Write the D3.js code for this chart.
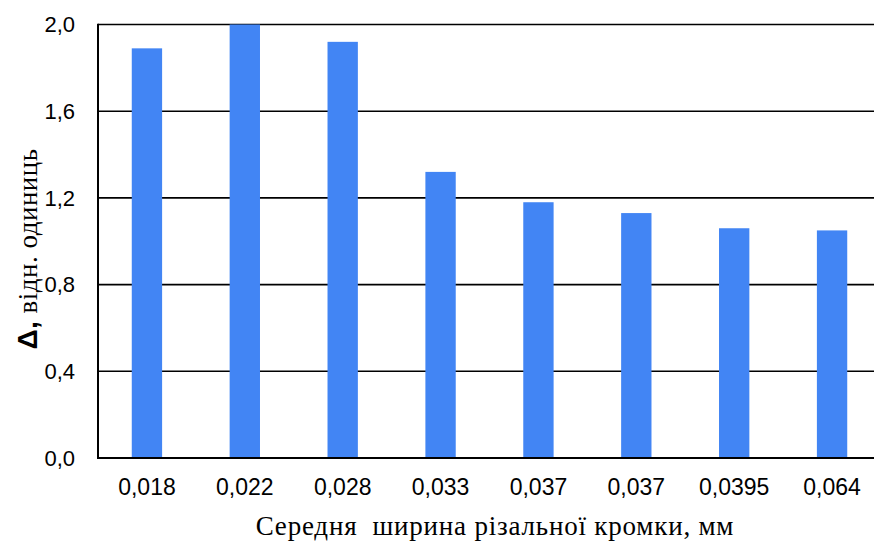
<!DOCTYPE html>
<html><head><meta charset="utf-8">
<script src="https://cdn.jsdelivr.net/npm/d3@7"></script>
<style>html,body{margin:0;padding:0;background:#fff;overflow:hidden}</style>
</head><body>
<svg id="c" width="874" height="541"></svg>
<script>
const categories = ["0,018","0,022","0,028","0,033","0,037","0,037 ","0,0395","0,064"];
const values = [1.89, 2.00, 1.92, 1.32, 1.18, 1.13, 1.06, 1.05];
const yTicks = [0, 0.4, 0.8, 1.2, 1.6, 2.0];
const xTitle = "Середня  ширина різальної кромки, мм";
const yTitleBold = "Δ,";
const yTitleRest = " відн. одиниць";

(function () {
const SANS = "'Liberation Sans', Arial, sans-serif";
const SERIF = "'Liberation Serif', 'Times New Roman', Times, serif";
const svg = d3.select("#c");
const pL = 98, pR = 881, pT = 24.5, pB = 458;
const x = d3.scaleBand().domain(d3.range(categories.length)).range([pL, pR]).paddingInner(0.69).paddingOuter(0.345);
const y = d3.scaleLinear().domain([0, 2]).range([pB, pT]);

svg.append("g").selectAll("line").data(yTicks.slice(1)).join("line")
  .attr("x1", pL).attr("x2", 874).attr("y1", d => y(d)).attr("y2", d => y(d))
  .attr("stroke", "#000").attr("stroke-width", 1.6);

svg.append("g").selectAll("rect").data(values).join("rect")
  .attr("x", (d, i) => x(i)).attr("width", x.bandwidth())
  .attr("y", d => y(d)).attr("height", d => y(0) - y(d))
  .attr("fill", "#4285f4");

svg.append("line").attr("x1", pL).attr("x2", pL).attr("y1", pT - 0.8).attr("y2", pB + 1)
  .attr("stroke", "#000").attr("stroke-width", 2);
svg.append("line").attr("x1", pL - 1).attr("x2", 874).attr("y1", pB).attr("y2", pB)
  .attr("stroke", "#000").attr("stroke-width", 2);

svg.append("g").selectAll("text").data(yTicks).join("text")
  .style("font-family", SANS)
  .attr("x", 75).attr("y", d => y(d)).attr("dy", "0.35em")
  .attr("text-anchor", "end").style("font-size", "22px")
  .text(d => d3.format(".1f")(d).replace(".", ","));

svg.append("g").selectAll("text").data(categories).join("text")
  .style("font-family", SANS)
  .attr("x", (d, i) => x(i) + x.bandwidth() / 2).attr("y", 495)
  .attr("text-anchor", "middle").style("font-size", "23px")
  .text(d => d.trim());

svg.append("text").style("font-family", SERIF).attr("x", 495).attr("y", 535).attr("text-anchor", "middle")
  .style("font-size", "27px").style("letter-spacing", "0.8px").style("white-space", "pre")
  .text(xTitle);

const yt = svg.append("text").attr("transform", "translate(37,249) rotate(-90)")
  .attr("text-anchor", "middle").style("font-family", SERIF).style("font-size", "27px")
  .style("letter-spacing", "0.5px");
yt.append("tspan").style("font-family", SANS).style("font-weight", "bold")
  .style("font-size", "28px").text(yTitleBold);
yt.append("tspan").style("white-space", "pre").text(yTitleRest);
})();
</script>
</body></html>
